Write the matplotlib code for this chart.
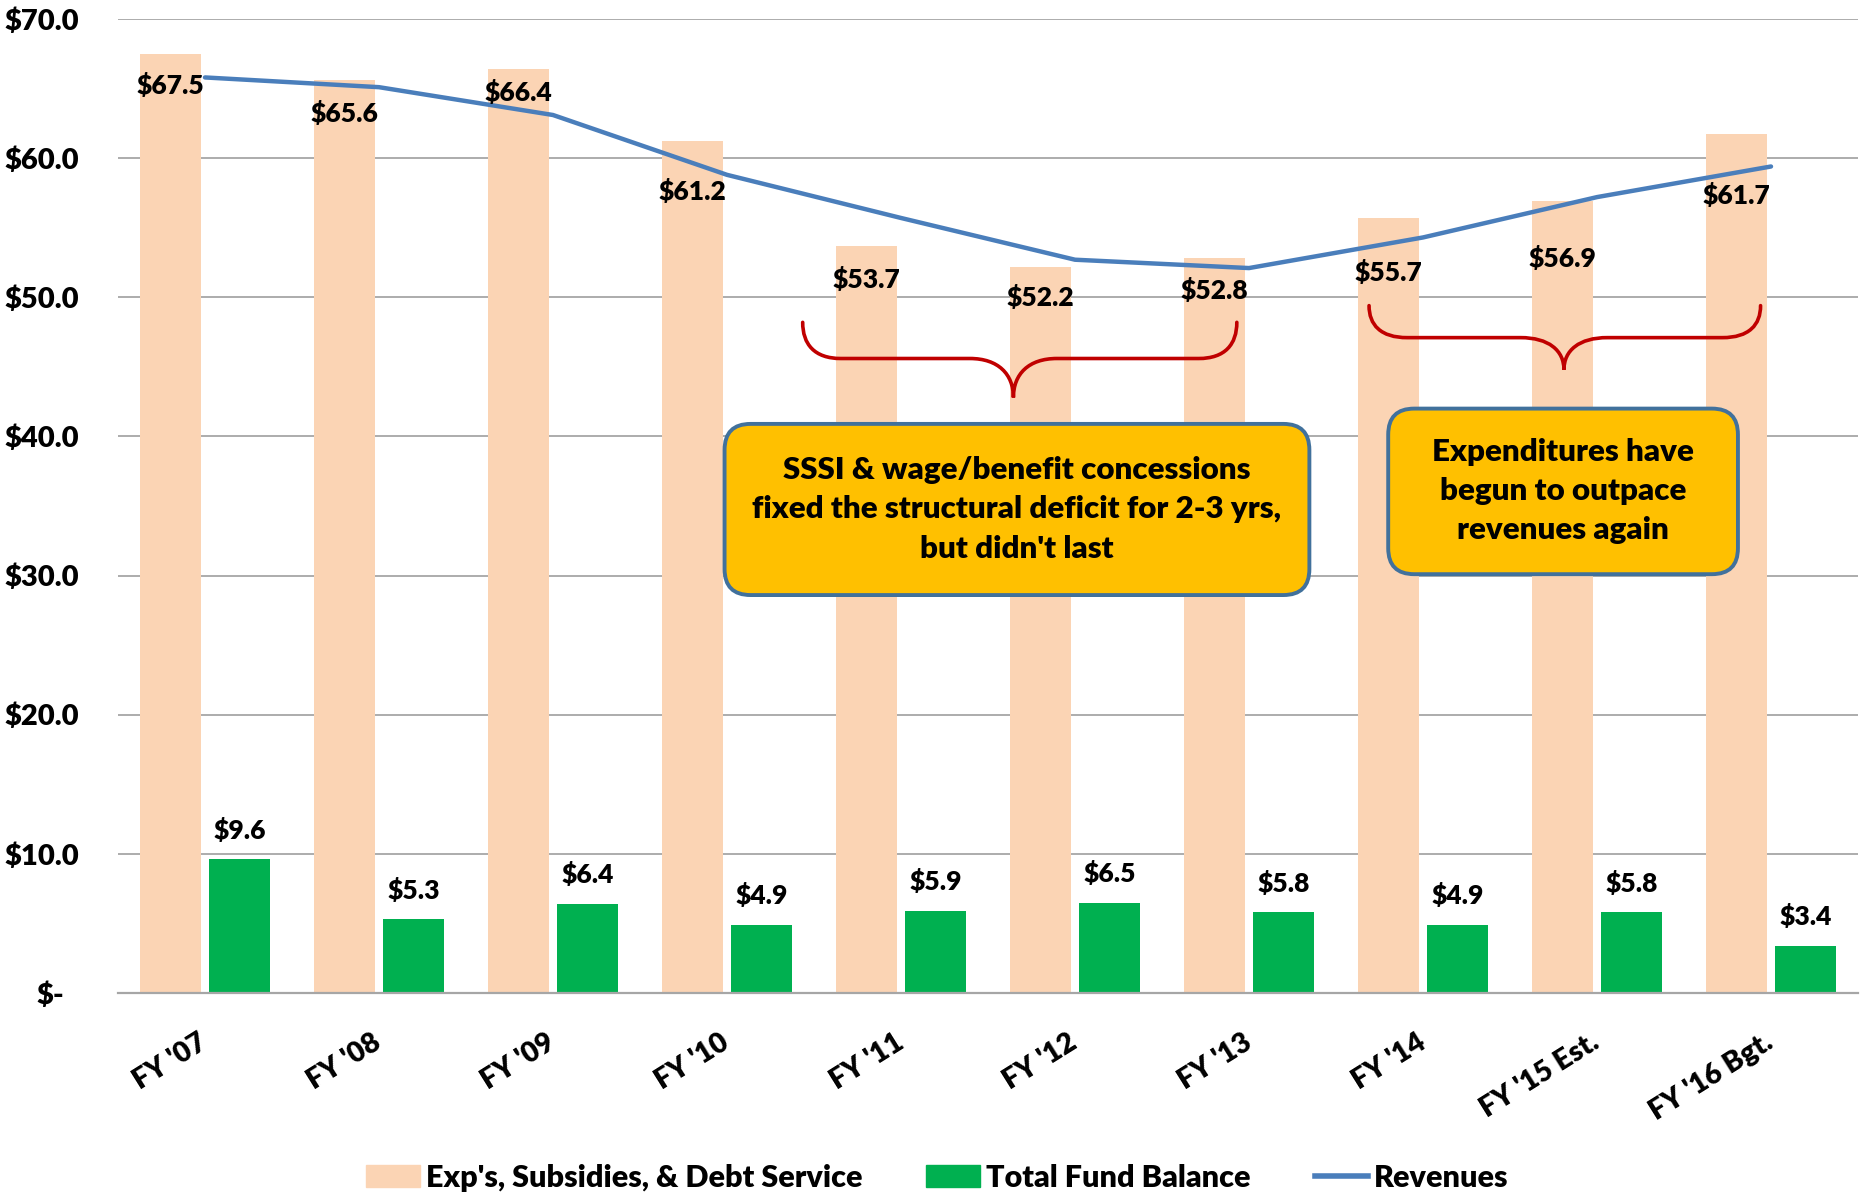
import matplotlib

matplotlib.use("Agg")
import matplotlib.pyplot as plt
import numpy as np
from matplotlib.patches import FancyBboxPatch, PathPatch
from matplotlib.path import Path
from matplotlib.transforms import IdentityTransform, ScaledTranslation
from matplotlib.lines import Line2D
from matplotlib.patches import Patch

# chart data ($ millions)
years = ["FY '07", "FY '08", "FY '09", "FY '10", "FY '11", "FY '12", "FY '13",
         "FY '14", "FY '15 Est.", "FY '16 Bgt."]
expenses = [67.5, 65.6, 66.4, 61.2, 53.7, 52.2, 52.8, 55.7, 56.9, 61.7]
fund_balance = [9.6, 5.3, 6.4, 4.9, 5.9, 6.5, 5.8, 4.9, 5.8, 3.4]
revenues = [65.8, 65.1, 63.1, 58.8, 55.7, 52.7, 52.1, 54.3, 57.2, 59.4]
y_ticks = [0, 10, 20, 30, 40, 50, 60, 70]

legend_labels = ["Exp's, Subsidies, & Debt Service", "Total Fund Balance", "Revenues"]
note_left = "SSSI & wage/benefit concessions\nfixed the structural deficit for 2-3 yrs,\nbut didn't last"
note_right = "Expenditures have\nbegun to outpace\nrevenues again"

# label placement (points below the top of each expense bar)
exp_label_drop = [-23, -24, -17, -36, -24, -22, -23, -39, -41, -44]

ORANGE = "#FBD4B4"
GREEN = "#00B050"
BLUE = "#4A7EBB"
RED = "#C00000"
GOLD = "#FFC000"
BOX_EDGE = "#41719C"
GRID = "#A6A6A6"
WEIGHT = "heavy"

plt.rcParams["font.family"] = ["Lato", "DejaVu Sans"]

W, H = 1860, 1192
fig = plt.figure(figsize=(W / 100, H / 100), dpi=100)
ax = fig.add_axes([118 / W, 1 - 993 / H, 1740 / W, 974 / H])

x = np.arange(len(years))
bar_w = 0.35
ax.bar(x - 0.2, expenses, bar_w, color=ORANGE, zorder=2)
ax.bar(x + 0.2, fund_balance, bar_w, color=GREEN, zorder=2)
ax.plot(x, revenues, color=BLUE, lw=3.2, zorder=4, solid_capstyle="round")

ax.set_xlim(-0.5, len(years) - 0.5)
ax.set_ylim(0, 70)
ax.set_yticks(y_ticks)
ax.set_yticklabels(["$-" if v == 0 else f"${v:.1f}" for v in y_ticks],
                   fontsize=21, fontweight=WEIGHT)
ax.set_xticks(x)
ax.set_xticklabels(years, rotation=32, ha="right", va="center",
                   rotation_mode="anchor", fontsize=20.5, fontweight=WEIGHT)
ax.tick_params(axis="y", length=0, pad=28)
ax.tick_params(axis="x", length=0, pad=34)
ax.grid(axis="y", color=GRID, lw=1.3)
ax.set_axisbelow(True)
for side in ["top", "right", "left"]:
    ax.spines[side].set_visible(False)
ax.spines["bottom"].set_color(GRID)
ax.spines["bottom"].set_linewidth(1.6)

# "$-" sits further left in the original
zero_label = ax.get_yticklabels()[0]
zero_label.set_transform(zero_label.get_transform() + ScaledTranslation(-0.15, 0, fig.dpi_scale_trans))

for xi, v, drop in zip(x, expenses, exp_label_drop):
    ax.annotate(f"${v:.1f}", (xi - 0.2, v), xytext=(0, drop), textcoords="offset points",
                ha="center", va="center", fontsize=19, fontweight=WEIGHT, zorder=5)
for xi, v in zip(x, fund_balance):
    ax.annotate(f"${v:.1f}", (xi + 0.2, v), xytext=(0, 21), textcoords="offset points",
                ha="center", va="center", fontsize=19, fontweight=WEIGHT, zorder=5)


def brace(x0, x1, xc, y_top, y_mid, y_tip, r=0.22, rt=0.25):
    verts = [
        (x0, y_top), (x0, y_mid + 0.4 * (y_top - y_mid)), (x0 + 0.3 * r, y_mid), (x0 + r, y_mid),
        (xc - rt, y_mid),
        (xc - 0.35 * rt, y_mid), (xc, y_mid - 0.4 * (y_mid - y_tip)), (xc, y_tip),
        (xc, y_mid - 0.4 * (y_mid - y_tip)), (xc + 0.35 * rt, y_mid), (xc + rt, y_mid),
        (x1 - r, y_mid),
        (x1 - 0.3 * r, y_mid), (x1, y_mid + 0.4 * (y_top - y_mid)), (x1, y_top),
    ]
    codes = [Path.MOVETO, Path.CURVE4, Path.CURVE4, Path.CURVE4, Path.LINETO,
             Path.CURVE4, Path.CURVE4, Path.CURVE4, Path.CURVE4, Path.CURVE4, Path.CURVE4,
             Path.LINETO, Path.CURVE4, Path.CURVE4, Path.CURVE4]
    ax.add_patch(PathPatch(Path(verts, codes), fill=False, edgecolor=RED, lw=2.6,
                           zorder=5, capstyle="round"))


brace(3.435, 5.93, 4.646, 48.2, 45.6, 42.8)
brace(6.69, 8.94, 7.81, 49.4, 47.1, 44.8)


def note_box(x0, x1, y0, y1, text):
    (px0, py0), (px1, py1) = ax.transData.transform([(x0, y0), (x1, y1)])
    box = FancyBboxPatch((px0, py0), px1 - px0, py1 - py0,
                         boxstyle="round,pad=0,rounding_size=26",
                         facecolor=GOLD, edgecolor=BOX_EDGE, lw=2.8,
                         transform=IdentityTransform(), zorder=6)
    ax.add_patch(box)
    ax.text((x0 + x1) / 2, (y0 + y1) / 2, text, ha="center", va="center",
            fontsize=22.5, fontweight=WEIGHT, linespacing=1.48, zorder=7)


note_box(2.986, 6.347, 28.6, 40.9, note_left)
note_box(6.80, 8.81, 30.1, 42.0, note_right)

handles = [Patch(color=ORANGE), Patch(color=GREEN), Line2D([], [], color=BLUE, lw=4)]
fig.legend(handles, legend_labels, loc="center", bbox_to_anchor=(0.504, 0.012), ncol=3,
           frameon=False, handlelength=1.75, handleheight=0.7, handletextpad=0.2,
           columnspacing=2.1, prop={"weight": WEIGHT, "size": 22})

fig.savefig("out.png", dpi=100)
